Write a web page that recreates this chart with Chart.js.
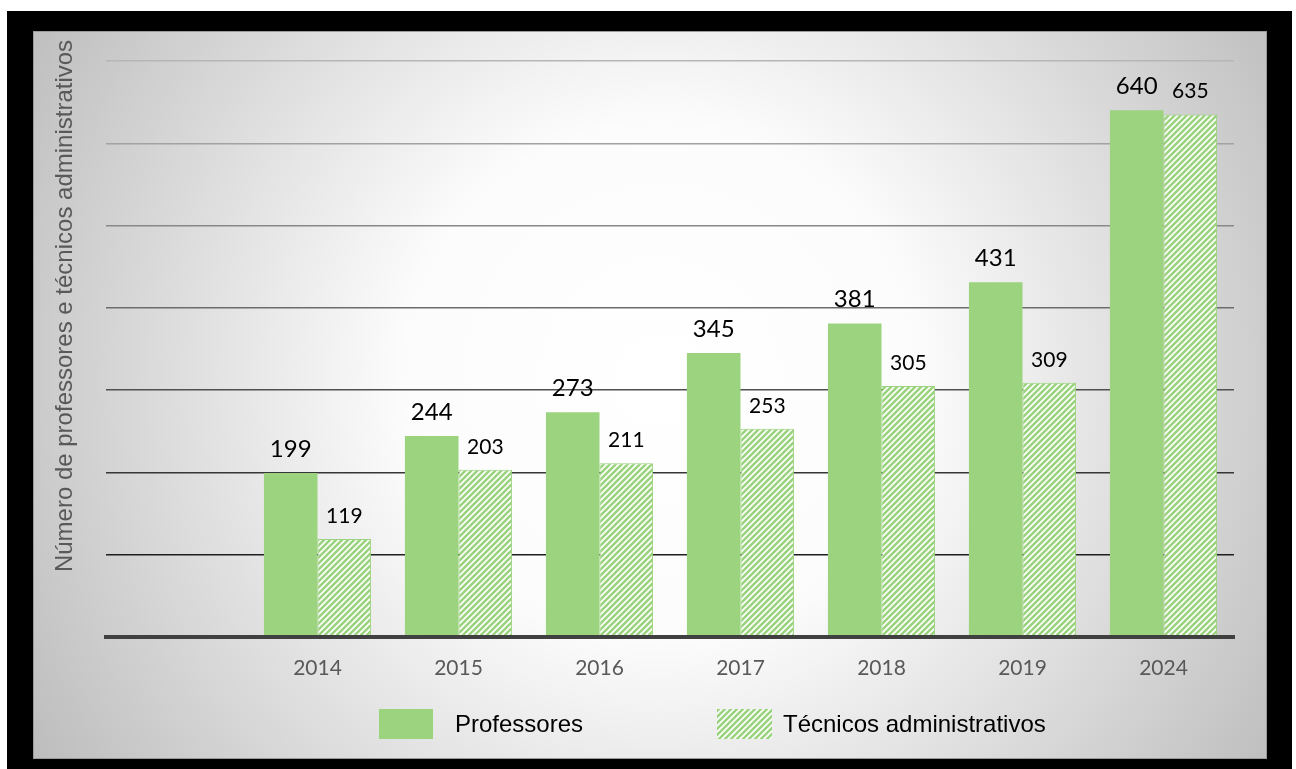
<!DOCTYPE html>
<html>
<head>
<meta charset="utf-8">
<script src="https://cdn.jsdelivr.net/npm/chart.js@4.4.1/dist/chart.umd.min.js"></script>
<style>
  html, body { margin: 0; padding: 0; background: #fff; }
  #wrap { width: 1296px; height: 769px; }
</style>
</head>
<body>
<div id="wrap"><canvas id="grafico"></canvas></div>
<script>
const anos = ['', '2014', '2015', '2016', '2017', '2018', '2019', '2024'];
const professores = [null, 199, 244, 273, 345, 381, 431, 640];
const tecnicos = [null, 119, 203, 211, 253, 305, 309, 635];
const tituloY = 'Número de professores e técnicos administrativos';
const legendas = ['Professores', 'Técnicos administrativos'];

const verde = '#9bd37e';

// hachura diagonal (verde sobre branco)
function criaHachura() {
  const s = 6;
  const c = document.createElement('canvas');
  c.width = s; c.height = s;
  const g = c.getContext('2d');
  g.fillStyle = '#ffffff';
  g.fillRect(0, 0, s, s);
  g.strokeStyle = verde;
  g.lineWidth = 2.6;
  g.beginPath();
  g.moveTo(-1, s + 1); g.lineTo(s + 1, -1);
  g.moveTo(-1, 1); g.lineTo(1, -1);
  g.moveTo(s - 1, s + 1); g.lineTo(s + 1, s - 1);
  g.stroke();
  return g.createPattern(c, 'repeat');
}
const ctx = document.getElementById('grafico');
const hachura = criaHachura();

// fundo: moldura preta + painel com gradiente
const fundo = {
  id: 'fundo',
  beforeDraw(chart) {
    const c = chart.ctx;
    c.save();
    c.fillStyle = '#ffffff';
    c.fillRect(0, 0, chart.width, chart.height);
    c.fillStyle = '#000000';
    c.fillRect(7, 11, 1285, 758);
    const grad = c.createRadialGradient(660, 380, 0, 660, 380, 730);
    grad.addColorStop(0, '#ffffff');
    grad.addColorStop(0.35, '#fcfcfc');
    grad.addColorStop(1, '#bdbdbd');
    c.fillStyle = grad;
    c.fillRect(33, 31, 1234, 728);
    c.strokeStyle = '#9a9a9a';
    c.lineWidth = 1;
    c.strokeRect(33.5, 31.5, 1233, 727);
    c.restore();
  }
};

// rótulos dos valores, título do eixo e legenda
const textos = {
  id: 'textos',
  afterDatasetsDraw(chart) {
    const c = chart.ctx;
    c.save();
    c.textAlign = 'center';
    c.textBaseline = 'alphabetic';
    c.fillStyle = '#000';
    chart.data.datasets.forEach((ds, i) => {
      const meta = chart.getDatasetMeta(i);
      c.font = i === 0 ? '24px Lato' : '21px Lato';
      meta.data.forEach((bar, j) => {
        if (ds.data[j] == null) return;
        c.fillText(String(ds.data[j]), bar.x, bar.y - 16);
      });
    });

    // título do eixo y
    c.save();
    c.translate(72, 306);
    c.rotate(-Math.PI / 2);
    c.font = '24px "Liberation Sans", Arial';
    c.fillStyle = '#595959';
    c.textAlign = 'center';
    c.textBaseline = 'alphabetic';
    c.fillText(tituloY, 0, 0);
    c.restore();

    // legenda
    c.font = '24px "Liberation Sans", Arial';
    c.textAlign = 'left';
    c.textBaseline = 'middle';
    c.fillStyle = verde;
    c.fillRect(379, 709, 54, 30);
    c.fillStyle = '#000';
    c.fillText(legendas[0], 455, 725);
    c.fillStyle = hachura;
    c.fillRect(717, 709, 55, 30);
    c.fillStyle = '#000';
    c.fillText(legendas[1], 783, 725);
    c.restore();
  }
};

const coresGrade = ['rgba(0,0,0,0)', '#1e1e1e', '#363636', '#505050', '#6c6c6c', '#888888', '#a2a2a2', '#b6b6b6'];

new Chart(ctx, {
  type: 'bar',
  data: {
    labels: anos,
    datasets: [
      {
        label: legendas[0],
        data: professores,
        backgroundColor: verde,
        borderWidth: 0,
        barPercentage: 1,
        categoryPercentage: 0.76
      },
      {
        label: legendas[1],
        data: tecnicos,
        backgroundColor: hachura,
        borderColor: verde,
        borderWidth: 1,
        barPercentage: 1,
        categoryPercentage: 0.76
      }
    ]
  },
  options: {
    responsive: true,
    maintainAspectRatio: false,
    animation: false,
    layout: { padding: { left: 106, right: 62, top: 61, bottom: 69 } },
    plugins: {
      legend: { display: false },
      tooltip: { enabled: false }
    },
    scales: {
      x: {
        grid: { display: false, drawTicks: false },
        border: { color: '#404040', width: 4, z: 1 },
        ticks: { color: '#595959', font: { family: 'Lato', size: 21 }, padding: 19 }
      },
      y: {
        min: 0,
        max: 700,
        ticks: { display: false, stepSize: 100 },
        border: { display: false },
        grid: {
          drawTicks: false,
          lineWidth: 1.5,
          color: (c) => coresGrade[c.index] || '#b6b6b6'
        }
      }
    }
  },
  plugins: [fundo, textos]
});
</script>
</body>
</html>
